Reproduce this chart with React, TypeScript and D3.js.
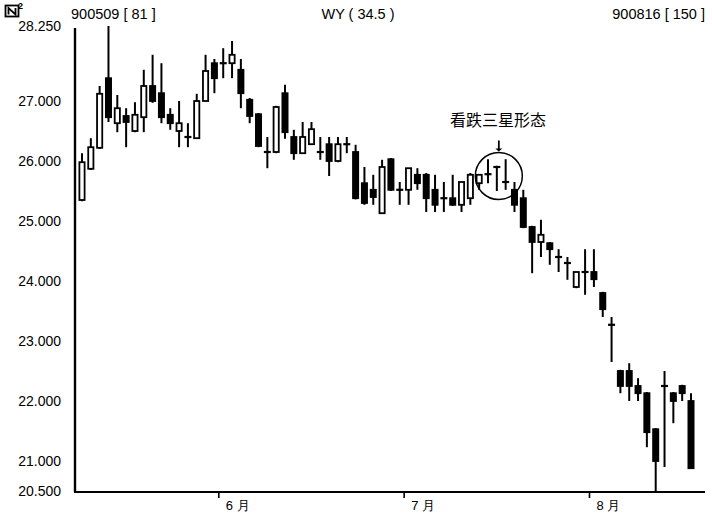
import React from "react";
import * as d3 from "d3";

const opens = [25.35,25.87,26.22,27.38,26.63,26.75,26.5,26.73,27.25,27.13,26.77,26.5,26.4,26.38,27.0,27.63,27.63,27.63,27.52,27.02,26.78,26.15,26.15,27.13,26.4,26.13,26.28,26.15,26.28,26.0,26.28,26.15,25.63,25.52,25.13,26.03,25.52,25.52,25.77,25.77,25.52,25.38,25.38,25.27,25.38,25.63,25.78,25.9,25.65,25.52,25.38,24.9,24.65,24.63,24.4,24.3,23.9,24.15,24.15,23.8,23.27,22.5,22.5,22.25,22.13,21.53,22.25,22.13,22.25,22.0];
const highs = [26.13,26.38,27.25,28.25,27.1,26.88,26.98,27.52,27.77,27.63,26.88,27.0,26.63,27.12,27.77,27.7,27.88,28.0,27.7,27.05,26.8,26.4,26.92,27.27,26.52,26.65,26.65,26.4,26.4,26.4,26.4,26.27,25.9,25.77,26.02,26.05,25.65,25.88,25.88,25.8,25.77,25.65,25.77,25.65,25.8,25.77,26.03,25.92,26.03,25.65,25.52,24.92,25.02,24.65,24.53,24.4,24.15,24.53,24.53,23.82,23.4,22.52,22.63,22.38,22.15,21.55,22.5,22.15,22.27,22.13];
const lows = [25.33,25.85,26.2,26.65,26.48,26.23,26.48,26.48,26.97,26.63,26.52,26.23,26.23,26.37,27.0,27.13,27.38,27.38,26.88,26.63,26.23,25.88,26.13,26.37,26.02,26.12,26.27,26.02,25.75,25.98,26.13,25.36,25.27,25.27,25.12,25.5,25.27,25.27,25.52,25.15,25.15,25.15,25.25,25.15,25.27,25.52,25.63,25.5,25.52,25.15,24.88,24.13,24.4,24.27,24.15,24.02,23.88,23.77,23.9,23.4,22.65,22.13,22.0,22.0,21.23,20.5,20.9,21.63,22.0,20.88];
const closes = [25.98,26.23,27.12,26.73,26.88,26.65,26.77,27.25,27.0,26.73,26.63,26.63,26.4,27.0,27.5,27.38,27.63,27.77,27.13,26.75,26.25,26.15,26.9,26.48,26.13,26.4,26.53,26.15,26.0,26.28,26.28,25.38,25.3,25.4,25.9,25.52,25.52,25.88,25.63,25.38,25.27,25.38,25.27,25.65,25.77,25.77,25.78,25.9,25.65,25.27,24.9,24.65,24.77,24.53,24.4,24.3,24.15,24.15,24.03,23.53,23.27,22.25,22.25,22.13,21.48,21.0,22.25,22.0,22.13,20.88];

const yTickValues = [28.25, 27, 26, 25, 24, 23, 22, 21, 20.5];
const monthLabels = ["6 月", "7 月", "8 月"];
const monthStartIndex = [16, 37, 58];
const headerLeft = "900509 [ 81 ]";
const headerMid = "WY ( 34.5 )";
const headerRight = "900816 [ 150 ]";
const annotationText = "看跌三星形态";
const patternIndex = 47;
const patternPrice = 25.75;

const W = 712;
const H = 520;
const FONT = "'Liberation Sans', Arial, Helvetica, sans-serif";

export default function App() {
  const n = opens.length;
  const x = d3.scaleLinear().domain([0, n - 1]).range([82, 691]);
  const y = d3.scaleLinear().domain([20.5, 28.25]).range([491, 26]);
  const bodyW = 7;
  const step = x(1) - x(0);

  const candles = opens.map((o, i) => {
    const c = closes[i];
    const hi = highs[i];
    const lo = lows[i];
    const cx = x(i);
    const top = y(Math.max(o, c));
    const bot = y(Math.min(o, c));
    const up = c > o;
    const doji = Math.abs(c - o) < 0.005;
    return (
      <g key={i}>
        <line x1={cx} x2={cx} y1={y(hi)} y2={y(lo)} stroke="#000" strokeWidth={2} />
        {doji ? (
          <line x1={cx - bodyW / 2} x2={cx + bodyW / 2} y1={top} y2={top} stroke="#000" strokeWidth={2.2} />
        ) : (
          <rect
            x={cx - bodyW / 2 + 0.9}
            y={top}
            width={bodyW - 1.8}
            height={Math.max(bot - top, 1.5)}
            fill={up ? "#fff" : "#000"}
            stroke="#000"
            strokeWidth={1.8}
          />
        )}
      </g>
    );
  });

  const circleX = x(patternIndex) + 2;
  const circleY = y(patternPrice);
  const circleR = 23.5;

  return (
    <svg
      width={W}
      height={H}
      viewBox={`0 0 ${W} ${H}`}
      style={{ position: "absolute", left: 0, top: 0, background: "#fff" }}
      fontFamily={FONT}
    >
      <rect x={0} y={0} width={W} height={H} fill="#fff" />
      {/* icon */}
      <rect x={5.5} y={5.5} width={13} height={11} fill="none" stroke="#000" strokeWidth={1.8} />
      <path d="M8.5,14.5 L8.5,8 L15.5,14.5 L15.5,8" fill="none" stroke="#000" strokeWidth={1.8} />
      <text x={18} y={9} fontSize={9} fontWeight="bold" fill="#000">2</text>

      <text x={71} y={19} fontSize={14.5} fill="#000">{headerLeft}</text>
      <text x={358} y={19} fontSize={14.5} fill="#000" textAnchor="middle">{headerMid}</text>
      <text x={705} y={19} fontSize={14.5} fill="#000" textAnchor="end">{headerRight}</text>

      {/* y labels */}
      {yTickValues.map((v) => (
        <text key={v} x={61} y={y(v) + 5} fontSize={14} textAnchor="end" fill="#000">
          {d3.format(".3f")(v)}
        </text>
      ))}

      {/* axes */}
      <line x1={75} x2={75} y1={y(28.25) + 2} y2={y(20.5) + 1} stroke="#000" strokeWidth={2.4} />
      <line x1={74} x2={705} y1={y(20.5) + 1} y2={y(20.5) + 1} stroke="#000" strokeWidth={2.2} />

      {monthStartIndex.map((idx, k) => {
        const tx = x(idx) - step / 2;
        return (
          <g key={k}>
            <line x1={tx} x2={tx} y1={y(20.5) + 1} y2={y(20.5) + 7} stroke="#000" strokeWidth={1.6} />
            <text x={tx + 7} y={y(20.5) + 19} fontSize={13} fill="#000">{monthLabels[k]}</text>
          </g>
        );
      })}

      {candles}

      {/* annotation */}
      <circle cx={circleX} cy={circleY} r={circleR} fill="none" stroke="#000" strokeWidth={1.5} />
      <line x1={circleX} x2={circleX} y1={circleY - circleR - 12} y2={circleY - circleR - 3} stroke="#000" strokeWidth={1.8} />
      <path
        d={`M${circleX - 3.5},${circleY - circleR - 4} L${circleX + 3.5},${circleY - circleR - 4} L${circleX},${circleY - circleR - 1} Z`}
        fill="#000"
      />
      <text x={450} y={126} fontSize={16} fill="#000" fontFamily="'Noto Sans CJK SC', sans-serif">
        {annotationText}
      </text>
    </svg>
  );
}
